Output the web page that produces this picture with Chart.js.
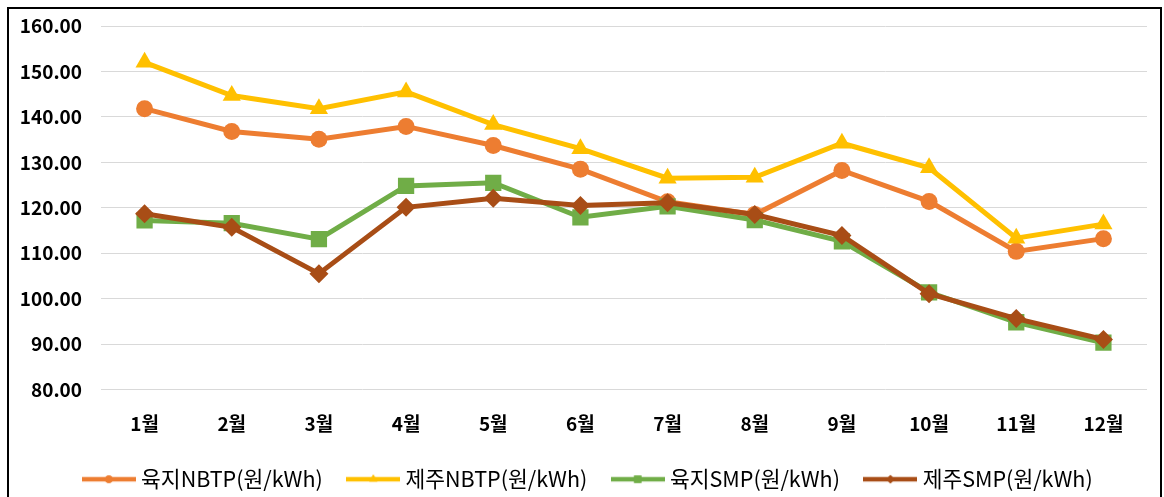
<!DOCTYPE html>
<html><head><meta charset="utf-8">
<script src="https://cdn.jsdelivr.net/npm/chart.js@4.4.0/dist/chart.umd.min.js"></script>
<style>
html,body{margin:0;padding:0;background:#fff;overflow:hidden;width:1164px;height:497px;}
#frame{position:absolute;left:7px;top:7px;width:1155px;height:530px;border:2px solid #000;box-sizing:border-box;}
#c{position:absolute;left:0;top:0;}
</style></head><body>
<div id="frame"></div>
<canvas id="c" width="1164" height="497"></canvas>
<script>
const categories = ['1월','2월','3월','4월','5월','6월','7월','8월','9월','10월','11월','12월'];
const seriesNames = ['육지NBTP(원/kWh)','제주NBTP(원/kWh)','육지SMP(원/kWh)','제주SMP(원/kWh)'];
const mainlandNBTP = [141.8,136.8,135.1,137.9,133.7,128.5,121.3,118.5,128.2,121.4,110.4,113.2];
const jejuNBTP = [152.0,144.7,141.8,145.5,138.3,133.0,126.5,126.7,134.2,128.8,113.3,116.4];
const mainlandSMP = [117.2,116.6,113.1,124.8,125.5,117.9,120.3,117.3,112.6,101.4,94.8,90.3];
const jejuSMP = [118.7,115.7,105.5,120.1,122.1,120.5,121.1,118.5,113.9,101.1,95.6,91.0];
const yMin = 80, yMax = 160, yStep = 10;

const colors = ['#ED7D31','#FFC000','#70AD47','#A84D16'];
const styles = ['circle','triangle','rect','rectRot'];
const radii = [8.5,10.5,11.5,9.5];
const seriesData = [mainlandNBTP, jejuNBTP, mainlandSMP, jejuSMP];

function legendIcon(i){
  const cv = document.createElement('canvas');
  cv.width = 54; cv.height = 14;
  const ctx = cv.getContext('2d');
  ctx.strokeStyle = colors[i]; ctx.lineWidth = 4.5;
  ctx.beginPath(); ctx.moveTo(0,7); ctx.lineTo(54,7); ctx.stroke();
  ctx.fillStyle = colors[i];
  Chart.helpers.drawPoint(ctx, {pointStyle: styles[i], radius: radii[i]*0.45, rotation: 0, borderWidth: 0}, 27, 7);
  ctx.fill();
  return cv;
}

const datasets = seriesNames.map((name, i) => ({
  label: name,
  data: seriesData[i],
  borderColor: colors[i],
  backgroundColor: colors[i],
  borderWidth: 5,
  pointStyle: styles[i],
  pointRadius: radii[i],
  pointHoverRadius: radii[i],
  pointBackgroundColor: colors[i],
  pointBorderColor: colors[i],
  pointBorderWidth: 0,
  tension: 0,
  order: 4 - i
}));

const FONT = '"Noto Sans CJK KR", "Malgun Gothic", sans-serif';

new Chart(document.getElementById('c'), {
  type: 'line',
  data: { labels: categories, datasets },
  options: {
    responsive: false,
    devicePixelRatio: 1,
    animation: false,
    layout: { padding: { left: 16, right: 0, top: 26, bottom: -3 } },
    plugins: {
      tooltip: { enabled: false },
      legend: {
        position: 'bottom',
        labels: {
          font: { family: FONT, size: 21.5 },
          color: '#000',
          usePointStyle: true,
          pointStyleWidth: 43,
          padding: 29,
          generateLabels(chart) {
            return chart.data.datasets.map((d, i) => ({
              text: d.label,
              pointStyle: legendIcon(i),
              fillStyle: colors[i],
              strokeStyle: colors[i],
              lineWidth: 0,
              hidden: false,
              datasetIndex: i,
              fontColor: '#000'
            }));
          }
        }
      }
    },
    scales: {
      x: {
        offset: true,
        grid: { display: false, drawTicks: false },
        border: { display: false },
        ticks: { font: { family: FONT, size: 19, weight: 'bold' }, color: '#000', padding: 23 },
        afterFit(s) { s.height = 50; }
      },
      y: {
        min: yMin, max: yMax,
        grid: { color: '#D9D9D9', lineWidth: 1, drawTicks: false },
        border: { display: false },
        ticks: {
          stepSize: yStep,
          font: { family: FONT, size: 19, weight: 'bold' },
          color: '#000',
          padding: 19,
          callback: v => v.toFixed(2)
        },
        afterFit(s) { s.width = 85; s.paddingTop = 0; s.paddingBottom = 0; }
      },
      yRight: {
        position: 'right',
        grid: { display: false, drawTicks: false },
        border: { display: false },
        ticks: { display: false },
        afterFit(s) { s.width = 17; s.paddingTop = 0; s.paddingBottom = 0; }
      }
    }
  }
});
</script>
</body></html>
